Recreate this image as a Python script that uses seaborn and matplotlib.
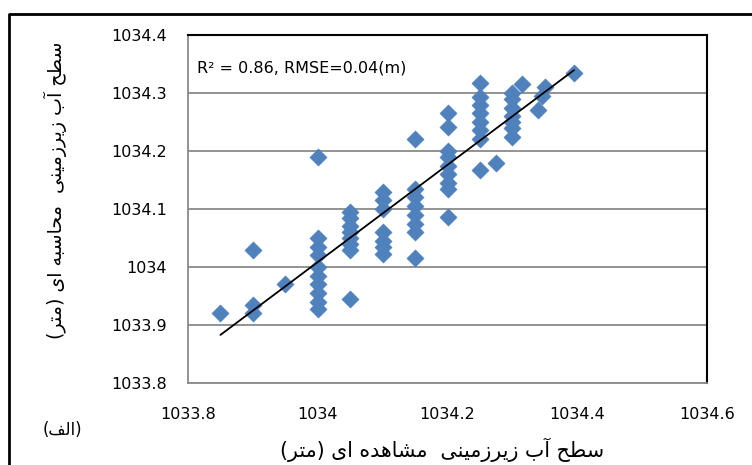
import numpy as np
import pandas as pd
import matplotlib
matplotlib.use("Agg")
import matplotlib.pyplot as plt
import seaborn as sns
from matplotlib.lines import Line2D

# ---------------- data ----------------
observed = [
    1033.85,
    1033.90, 1033.90, 1033.90,
    1033.95,
    1034.00, 1034.00, 1034.00, 1034.00, 1034.00, 1034.00, 1034.00, 1034.00, 1034.00, 1034.00,
    1034.05, 1034.05, 1034.05, 1034.05, 1034.05, 1034.05, 1034.05, 1034.05,
    1034.10, 1034.10, 1034.10, 1034.10, 1034.10, 1034.10, 1034.10,
    1034.15, 1034.15, 1034.15, 1034.15, 1034.15, 1034.15, 1034.15, 1034.15,
    1034.20, 1034.20, 1034.20, 1034.20, 1034.20, 1034.20, 1034.20, 1034.20, 1034.20,
    1034.25, 1034.25, 1034.25, 1034.25, 1034.25, 1034.25, 1034.25, 1034.25,
    1034.275,
    1034.30, 1034.30, 1034.30, 1034.30, 1034.30, 1034.30, 1034.30,
    1034.315,
    1034.35, 1034.345, 1034.34,
    1034.395,
]
computed = [
    1033.92,
    1034.03, 1033.935, 1033.92,
    1033.97,
    1034.19, 1034.05, 1034.035, 1034.02, 1034.00, 1033.985, 1033.97, 1033.955, 1033.94, 1033.928,
    1034.095, 1034.085, 1034.07, 1034.06, 1034.05, 1034.04, 1034.03, 1033.945,
    1034.13, 1034.115, 1034.10, 1034.06, 1034.045, 1034.035, 1034.022,
    1034.22, 1034.135, 1034.12, 1034.105, 1034.09, 1034.075, 1034.06, 1034.015,
    1034.266, 1034.241, 1034.20, 1034.19, 1034.175, 1034.16, 1034.145, 1034.135, 1034.086,
    1034.317, 1034.293, 1034.28, 1034.266, 1034.25, 1034.236, 1034.22, 1034.167,
    1034.18,
    1034.30, 1034.29, 1034.275, 1034.26, 1034.25, 1034.24, 1034.225,
    1034.315,
    1034.31, 1034.295, 1034.27,
    1034.335,
]
x_ticks = [1033.8, 1034.0, 1034.2, 1034.4, 1034.6]
x_tick_labels = ["1033.8", "1034", "1034.2", "1034.4", "1034.6"]
y_ticks = [1033.8, 1033.9, 1034.0, 1034.1, 1034.2, 1034.3, 1034.4]
y_tick_labels = ["1033.8", "1033.9", "1034", "1034.1", "1034.2", "1034.3", "1034.4"]

stats_text = "R\u00b2 = 0.86, RMSE=0.04(m)"
x_label = "سطح آب زیرزمینی  مشاهده ای (متر)"
y_label = "سطح آب زیرزمینی  محاسبه ای (متر)"
panel_label = "(الف)"

# ---------------- minimal Arabic/Persian shaping ----------------
FORMS = {
    'ا': ('\uFE8D', '\uFE8E', None, None),
    'آ': ('\uFE81', '\uFE82', None, None),
    'ب': ('\uFE8F', '\uFE90', '\uFE91', '\uFE92'),
    'ت': ('\uFE95', '\uFE96', '\uFE97', '\uFE98'),
    'ح': ('\uFEA1', '\uFEA2', '\uFEA3', '\uFEA4'),
    'د': ('\uFEA9', '\uFEAA', None, None),
    'ر': ('\uFEAD', '\uFEAE', None, None),
    'ز': ('\uFEAF', '\uFEB0', None, None),
    'س': ('\uFEB1', '\uFEB2', '\uFEB3', '\uFEB4'),
    'ش': ('\uFEB5', '\uFEB6', '\uFEB7', '\uFEB8'),
    'ط': ('\uFEC1', '\uFEC2', '\uFEC3', '\uFEC4'),
    'ف': ('\uFED1', '\uFED2', '\uFED3', '\uFED4'),
    'ل': ('\uFEDD', '\uFEDE', '\uFEDF', '\uFEE0'),
    'م': ('\uFEE1', '\uFEE2', '\uFEE3', '\uFEE4'),
    'ن': ('\uFEE5', '\uFEE6', '\uFEE7', '\uFEE8'),
    'ه': ('\uFEE9', '\uFEEA', '\uFEEB', '\uFEEC'),
    'ی': ('\uFBFC', '\uFBFD', '\uFBFE', '\uFBFF'),
}


def shape(s):
    out = []
    n = len(s)
    for i, ch in enumerate(s):
        if ch not in FORMS:
            out.append(ch)
            continue
        iso, fin, ini, med = FORMS[ch]
        prev = s[i - 1] if i > 0 else None
        nxt = s[i + 1] if i + 1 < n else None
        jp = prev in FORMS and FORMS[prev][2] is not None
        jn = nxt in FORMS and ini is not None
        if jp and jn:
            out.append(med)
        elif jp:
            out.append(fin)
        elif jn:
            out.append(ini)
        else:
            out.append(iso)
    vis = ''.join(reversed(out))
    return vis.translate(str.maketrans('()', ')('))


# ---------------- figure ----------------
sns.set_theme(style="white")
plt.rcParams['font.family'] = ['DejaVu Sans']

W, H = 752, 465
fig = plt.figure(figsize=(W / 100, H / 100), dpi=100)
ax = fig.add_axes([188 / W, 1 - 383 / H, (707 - 188) / W, (383 - 35) / H])

df = pd.DataFrame({"observed": observed, "computed": computed})
sns.scatterplot(data=df, x="observed", y="computed", marker="D", s=78,
                color="#4F81BD", edgecolor="#4F81BD", linewidth=0.3, ax=ax, zorder=3)
sns.regplot(data=df, x="observed", y="computed", scatter=False, ci=None,
            truncate=True, color="black", line_kws=dict(lw=1.3, zorder=4), ax=ax)

ax.set_xlim(x_ticks[0], x_ticks[-1])
ax.set_ylim(y_ticks[0], y_ticks[-1])
ax.set_xticks(x_ticks)
ax.set_xticklabels(x_tick_labels)
ax.set_yticks(y_ticks)
ax.set_yticklabels(y_tick_labels)
ax.set_xlabel("")
ax.set_ylabel("")

ax.yaxis.grid(True, color="#8a8a8a", lw=1.3)
ax.xaxis.grid(False)
ax.set_axisbelow(True)

for side in ("left", "bottom"):
    ax.spines[side].set_color("#8a8a8a")
    ax.spines[side].set_linewidth(1.3)
for side in ("top", "right"):
    ax.spines[side].set_color("black")
    ax.spines[side].set_linewidth(1.5)

ax.tick_params(axis="both", which="major", direction="out", length=5, width=1.2,
               color="#8a8a8a", labelsize=11.5, labelcolor="black")
ax.tick_params(axis="y", pad=10)
ax.tick_params(axis="x", pad=12)

ax.text(0.017, 0.905, stats_text, transform=ax.transAxes, ha="left", va="center",
        fontsize=11.5, color="black")

fig.text(442 / W, 1 - 450 / H, shape(x_label), ha="center", va="center",
         fontsize=14.8, color="black")
fig.text(55 / W, 1 - 190 / H, shape(y_label), ha="center", va="center",
         rotation=90, fontsize=13.7, color="black")
fig.text(62 / W, 1 - 430 / H, shape(panel_label), ha="center", va="center",
         fontsize=12, color="black")

# outer frame (left and top edges visible in the reference)
fig.add_artist(Line2D([9 / W, 9 / W, 1.0], [0.0, 1 - 14 / H, 1 - 14 / H],
                      transform=fig.transFigure, color="black", lw=2))

fig.savefig("out.png", dpi=100)
